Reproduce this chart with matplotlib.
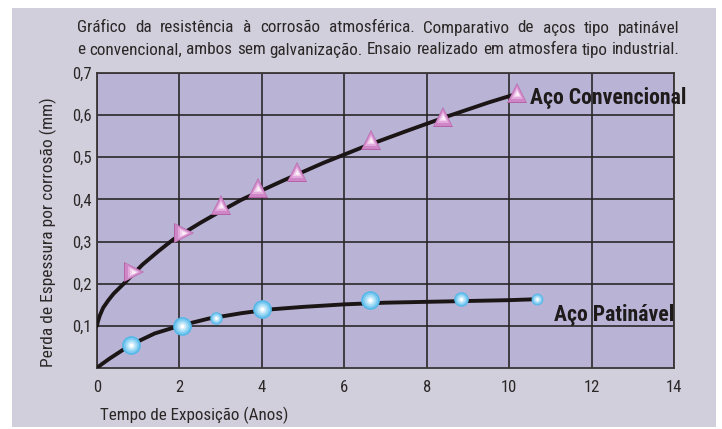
import matplotlib
matplotlib.use("Agg")
import matplotlib.pyplot as plt
from matplotlib import font_manager
from matplotlib.patches import Rectangle

############################################
# DATA
############################################

title_lines = [
    "Gráfico da resistência à corrosão atmosférica. Comparativo de aços tipo patinável",
    "e convencional, ambos sem galvanização. Ensaio realizado em atmosfera tipo industrial.",
]

x_ticks = [0, 2, 4, 6, 8, 10, 12, 14]
y_ticks = [0.1, 0.2, 0.3, 0.4, 0.5, 0.6, 0.7]
y_tick_labels = ["0,1", "0,2", "0,3", "0,4", "0,5", "0,6", "0,7"]

# Aço convencional - markers
conv_x = [0.9, 2.1, 3.0, 3.9, 4.85, 6.65, 8.4, 10.2]
conv_y = [0.228, 0.32, 0.387, 0.427, 0.465, 0.541, 0.596, 0.652]
conv_markers = [">", ">", "^", "^", "^", "^", "^", "^"]

# Aço convencional - trend curve
conv_curve_x = [0, 0.02, 0.07, 0.15, 0.27, 0.4, 0.7, 1.1, 1.5, 1.85, 2.5, 3.0, 3.5, 4.5, 5.5, 6.5, 7.5, 8.5, 9.5, 10.1]
conv_curve_y = [0.1, 0.11, 0.125, 0.143, 0.16, 0.176, 0.205, 0.245, 0.278, 0.305, 0.344, 0.372, 0.399, 0.444, 0.487, 0.526, 0.562, 0.597, 0.63, 0.648]

# Aço patinável - markers
pat_x = [0.83, 2.06, 2.89, 4.0, 6.63, 8.83, 10.68]
pat_y = [0.055, 0.1, 0.119, 0.14, 0.161, 0.164, 0.164]
pat_sizes = [13.5, 13.5, 9.0, 13.5, 13.5, 10.5, 8.5]

# Aço patinável - trend curve
pat_curve_x = [0, 0.1, 0.3, 0.8, 1.4, 2.0, 2.7, 3.5, 4.2, 5.0, 6.0, 7.0, 8.0, 9.0, 10.0, 10.6]
pat_curve_y = [0, 0.008, 0.022, 0.054, 0.082, 0.1, 0.117, 0.13, 0.139, 0.145, 0.151, 0.155, 0.157, 0.159, 0.161, 0.163]

############################################
# FONT (narrow if one is installed)
############################################

fonts = font_manager.fontManager.ttflist
names = {f.name for f in fonts}
family, stretch = "DejaVu Sans", "normal"
for n in ["Liberation Sans Narrow", "Roboto Condensed", "Open Sans Condensed",
          "Noto Sans Condensed", "DejaVu Sans Condensed"]:
    if n in names:
        family = n
        break
else:
    for n in ["Noto Sans", "Roboto", "Open Sans", "DejaVu Sans"]:
        if any(f.name == n and f.stretch in ("condensed", "semi-condensed", 500, 600)
               or (f.name == n and "Condensed" in f.fname) for f in fonts):
            family, stretch = n, "condensed"
            break

plt.rcParams["font.family"] = [family, "DejaVu Sans"]
plt.rcParams["font.stretch"] = stretch

TEXT_COLOR = "#2b2727"
BG_COLOR = "#d1cfdc"
FACE_COLOR = "#b9b3d6"
GRID_COLOR = "#2a2728"

# layered colours that fake the glossy markers
TRI_LAYERS = [(1.0, "#b463a6"), (0.82, "#cf86c6"), (0.62, "#e2a9dc"),
              (0.42, "#efcdeb"), (0.22, "#fbf0f9")]
DOT_LAYERS = [(1.0, "#55b8e8"), (0.82, "#7ccaf0"), (0.62, "#a3dbf6"),
              (0.42, "#cbeafa"), (0.22, "#ffffff")]

W, H = 722, 429
fig = plt.figure(figsize=(W / 100, H / 100), dpi=100)
fig.patch.set_facecolor("white")
fig.patches.append(Rectangle((12 / W, 2 / H), 704 / W, 419 / H,
                             transform=fig.transFigure, facecolor=BG_COLOR,
                             edgecolor="none", zorder=-10))
renderer = fig.canvas.get_renderer()


def fit_size(text, target_px, weight="normal"):
    # font size that makes text about target_px wide
    t = fig.text(0, 0, text, fontsize=10, fontweight=weight)
    w = t.get_window_extent(renderer).width
    t.remove()
    return 10 * target_px / w


ax = fig.add_axes([97 / W, 61 / H, 577 / W, 295 / H])
ax.set_facecolor(FACE_COLOR)
ax.set_xlim(0, 14)
ax.set_ylim(0, 0.7)
ax.set_xticks(x_ticks)
ax.set_yticks(y_ticks)
ax.set_yticklabels(y_tick_labels)
tick_size = min(12, fit_size("0,7", 24))
ax.tick_params(length=0, labelsize=tick_size, labelcolor=TEXT_COLOR)
ax.tick_params(axis="x", pad=9)
ax.tick_params(axis="y", pad=4)
ax.grid(True, color=GRID_COLOR, linewidth=1.2)
ax.set_axisbelow(True)
for s in ax.spines.values():
    s.set_color("#3a3636")
    s.set_linewidth(1.3)

############################################
# CURVES + MARKERS
############################################

ax.plot(conv_curve_x, conv_curve_y, color="#1b1515", linewidth=2.8,
        solid_capstyle="round", zorder=3)
ax.plot(pat_curve_x, pat_curve_y, color="#1b1515", linewidth=2.8,
        solid_capstyle="round", zorder=3)

for x, y, m in zip(conv_x, conv_y, conv_markers):
    for i, (f, c) in enumerate(TRI_LAYERS):
        ax.plot(x, y, marker=m, markersize=15 * f, color=c,
                markeredgewidth=0, zorder=4 + i * 0.1)

for x, y, ms in zip(pat_x, pat_y, pat_sizes):
    for i, (f, c) in enumerate(DOT_LAYERS):
        ax.plot(x, y, marker="o", markersize=ms * f, color=c,
                markeredgewidth=0, zorder=4 + i * 0.1)

lab_size = fit_size("Aço Convencional", 156, "bold")
ax.text(10.5, 0.641, "Aço Convencional", fontsize=lab_size, fontweight="bold",
        color="#1f1b1b", ha="left", va="center", zorder=7)
ax.text(14.0, 0.126, "Aço Patinável", fontsize=lab_size, fontweight="bold",
        color="#1f1b1b", ha="right", va="center", zorder=7)

############################################
# LABELS
############################################

fig.text(48 / W, 1 - 232 / H, "Perda de Espessura por corrosão (mm)",
         rotation=90, ha="center", va="center",
         fontsize=fit_size("Perda de Espessura por corrosão (mm)", 268), color=TEXT_COLOR)
fig.text(100 / W, 1 - 415 / H, "Tempo de Exposição (Anos)",
         ha="left", va="center", fontsize=fit_size("Tempo de Exposição (Anos)", 188),
         color=TEXT_COLOR)

# justified title, word by word
left_px, right_px = 77, 680
title_size = fit_size(title_lines[1], right_px - left_px - 6)
for line, y_px in zip(title_lines, [28, 50]):
    words = line.split(" ")
    items = []
    total = 0
    for w in words:
        t = fig.text(0, 1 - y_px / H, w, fontsize=title_size, color=TEXT_COLOR,
                     ha="left", va="center")
        wd = t.get_window_extent(renderer).width
        items.append((t, wd))
        total += wd
    gap = (right_px - left_px - total) / (len(words) - 1)
    pos = left_px
    for t, wd in items:
        t.set_x(pos / W)
        pos += wd + gap

fig.savefig("out.png", dpi=100, facecolor=fig.get_facecolor())
